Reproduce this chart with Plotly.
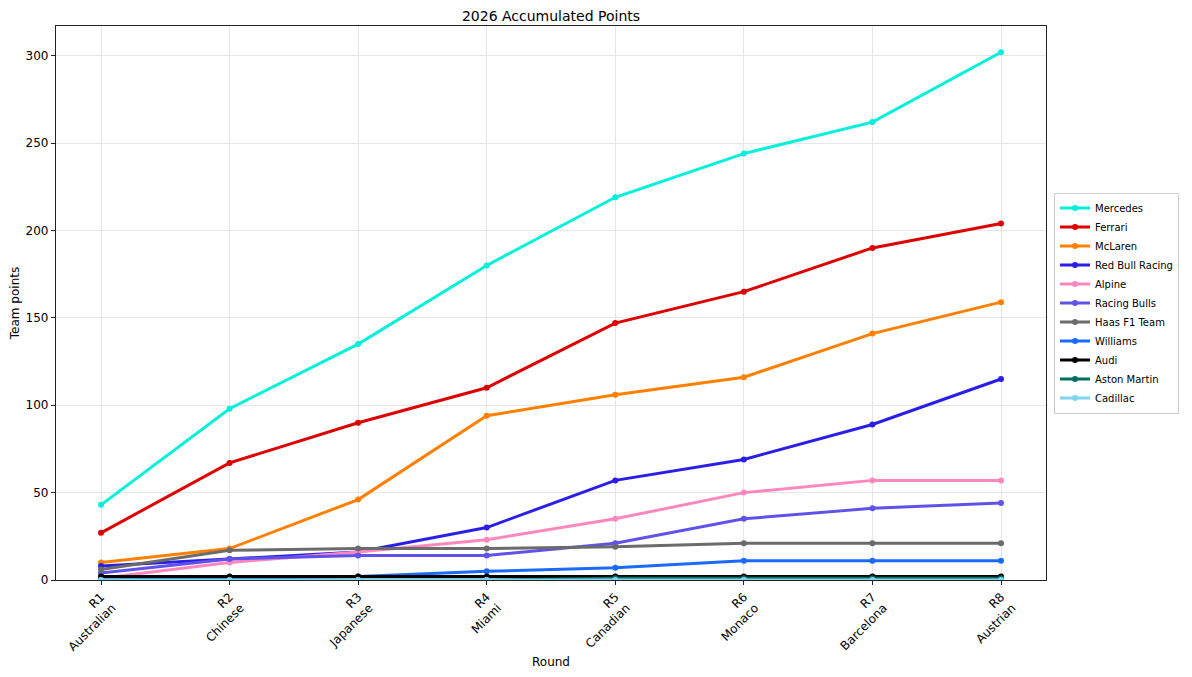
import plotly.graph_objects as go

# Rounds and race names for the x-axis tick labels
rounds = ["R1", "R2", "R3", "R4", "R5", "R6", "R7", "R8"]
races = ["Australian", "Chinese", "Japanese", "Miami", "Canadian", "Monaco", "Barcelona", "Austrian"]

# Accumulated team points after each round
teams = ["Mercedes", "Ferrari", "McLaren", "Red Bull Racing", "Alpine", "Racing Bulls",
         "Haas F1 Team", "Williams", "Audi", "Aston Martin", "Cadillac"]
mercedes = [43, 98, 135, 180, 219, 244, 262, 302]
ferrari = [27, 67, 90, 110, 147, 165, 190, 204]
mclaren = [10, 18, 46, 94, 106, 116, 141, 159]
red_bull = [8, 12, 16, 30, 57, 69, 89, 115]
alpine = [1, 10, 16, 23, 35, 50, 57, 57]
racing_bulls = [4, 12, 14, 14, 21, 35, 41, 44]
haas = [6, 17, 18, 18, 19, 21, 21, 21]
williams = [0, 1, 2, 5, 7, 11, 11, 11]
audi = [2, 2, 2, 2, 2, 2, 2, 2]
aston_martin = [0, 0, 0, 0, 1, 1, 1, 1]
cadillac = [0, 0, 0, 0, 0, 0, 0, 0]

points = [mercedes, ferrari, mclaren, red_bull, alpine, racing_bulls,
          haas, williams, audi, aston_martin, cadillac]

colors = {
    "Mercedes": "#00F0DC",
    "Ferrari": "#DC0000",
    "McLaren": "#FF8000",
    "Red Bull Racing": "#2A1FE6",
    "Alpine": "#FF87C0",
    "Racing Bulls": "#5F52EA",
    "Haas F1 Team": "#6B6B6B",
    "Williams": "#1A6AFF",
    "Audi": "#000000",
    "Aston Martin": "#006F62",
    "Cadillac": "#80D4F0",
}

x = list(range(len(rounds)))
tick_text = [f"{r}<br>{n}" for r, n in zip(rounds, races)]

fig = go.Figure()
for team, pts in zip(teams, points):
    fig.add_trace(go.Scatter(
        x=x,
        y=pts,
        name=team,
        mode="lines+markers",
        line=dict(color=colors[team], width=3),
        marker=dict(color=colors[team], size=6),
    ))

axis_common = dict(
    showline=True,
    linecolor="#222222",
    linewidth=1.2,
    mirror=True,
    ticks="outside",
    ticklen=4,
    tickcolor="#222222",
    showgrid=True,
    gridcolor="#E6E6E6",
    gridwidth=1,
    zeroline=False,
    automargin=False,
)

# the page body adds an 8px margin, so the figure is a bit smaller than the window
fig_w, fig_h = 1184, 669
ml, mr, mt, mb = 48, 146, 18, 97

fig.update_layout(
    width=fig_w,
    height=fig_h,
    margin=dict(l=ml, r=mr, t=mt, b=mb),
    font=dict(family="DejaVu Sans", size=12, color="#000000"),
    title=dict(
        text="2026 Accumulated Points",
        font=dict(size=14),
        x=(ml + fig_w - mr) / 2 / fig_w,
        xanchor="center",
        y=1 - 8 / fig_h,
        yanchor="middle",
    ),
    xaxis=dict(
        title=dict(text="Round", font=dict(size=12), standoff=4),
        tickmode="array",
        tickvals=x,
        ticktext=tick_text,
        tickangle=-45,
        range=[-0.35, 7.35],
        **axis_common,
    ),
    yaxis=dict(
        title=dict(text="Team points", font=dict(size=12), standoff=10),
        range=[0, 317],
        dtick=50,
        **axis_common,
    ),
    legend=dict(
        xref="container",
        yref="container",
        x=1046 / fig_w,
        xanchor="left",
        y=1 - (mt + (fig_h - mt - mb) / 2) / fig_h,
        yanchor="middle",
        bordercolor="#CCCCCC",
        borderwidth=1,
        font=dict(size=10),
        tracegroupgap=0,
        itemwidth=30,
    ),
    plot_bgcolor="white",
    paper_bgcolor="white",
)

fig.write_html("out.html")
